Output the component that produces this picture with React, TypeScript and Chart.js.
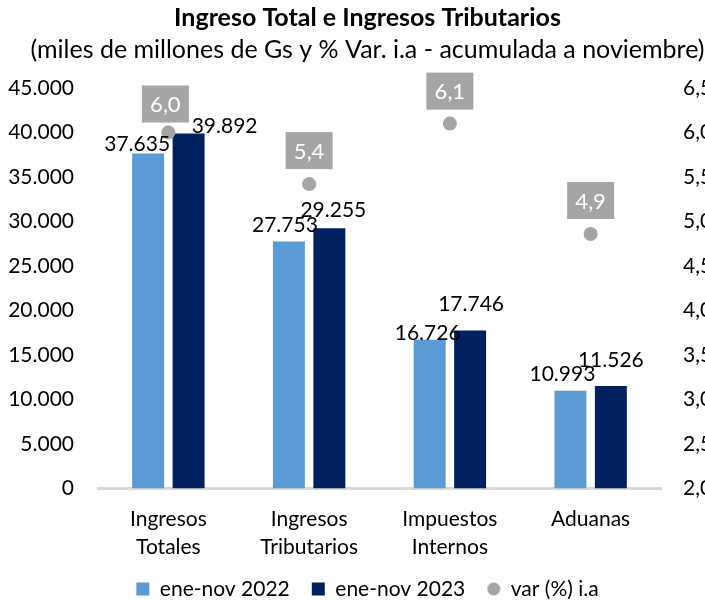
import React, { useEffect, useRef } from "react";
import { Chart, registerables } from "chart.js";

Chart.register(...registerables);

const categories: string[][] = [
  ["Ingresos", "Totales"],
  ["Ingresos", "Tributarios"],
  ["Impuestos", "Internos"],
  ["Aduanas"],
];
const values2022 = [37635, 27753, 16726, 10993];
const values2023 = [39892, 29255, 17746, 11526];
const varPct = [6.0, 5.42, 6.1, 4.86];

const seriesNames = ["ene-nov 2022", "ene-nov 2023", "var (%) i.a"];
const titleText = "Ingreso Total e Ingresos Tributarios";
const subtitleText = "(miles de millones de Gs y % Var. i.a - acumulada a noviembre)";

// label nudges (style only): [dx, dy] of label centre relative to bar top centre
const barLabelShift2022 = [[-11, -9], [-4, -16], [-2, -6], [-8, -16]];
const barLabelShift2023 = [[36, -7], [4, -18], [1, -26], [0, -26]];
const varLabelGap = [10, 15, 14, 15];
const varLabelDx = [-3, 0, 0, 0];

const FONT = "Lato";
const LIGHT = "#5b9bd5";
const DARK = "#002060";
const GREY = "#a5a5a5";

const fmtThousands = (v: number) =>
  String(Math.round(v)).replace(/\B(?=(\d{3})+(?!\d))/g, ".");
const fmtDec = (v: number) => v.toFixed(1).replace(".", ",");

const labelPlugin = {
  id: "customLabels",
  afterDatasetsDraw(chart: any) {
    const ctx = chart.ctx;
    ctx.save();
    [0, 1].forEach((di) => {
      const meta = chart.getDatasetMeta(di);
      const vals = di === 0 ? values2022 : values2023;
      const shifts = di === 0 ? barLabelShift2022 : barLabelShift2023;
      meta.data.forEach((el: any, i: number) => {
        ctx.font = `21px ${FONT}`;
        ctx.fillStyle = "#000";
        ctx.textAlign = "center";
        ctx.textBaseline = "middle";
        ctx.fillText(fmtThousands(vals[i]), el.x + shifts[i][0], el.y + shifts[i][1]);
      });
    });
    const meta = chart.getDatasetMeta(2);
    meta.data.forEach((el: any, i: number) => {
      const w = 47;
      const h = 37;
      const cx = el.x + varLabelDx[i];
      const bottom = el.y - varLabelGap[i];
      ctx.fillStyle = GREY;
      ctx.fillRect(cx - w / 2, bottom - h, w, h);
      ctx.font = `22px ${FONT}`;
      ctx.fillStyle = "#fff";
      ctx.textAlign = "center";
      ctx.textBaseline = "middle";
      ctx.fillText(fmtDec(varPct[i]), cx, bottom - h / 2 + 1);
    });
    ctx.restore();
  },
};

export default function App() {
  const ref = useRef<HTMLCanvasElement | null>(null);

  useEffect(() => {
    if (!ref.current) return;
    const dot = document.createElement("canvas");
    dot.width = 14;
    dot.height = 14;
    const dctx = dot.getContext("2d")!;
    dctx.fillStyle = GREY;
    dctx.beginPath();
    dctx.arc(7, 7, 6.5, 0, Math.PI * 2);
    dctx.fill();

    const chart = new Chart(ref.current, {
      type: "bar",
      data: {
        labels: categories,
        datasets: [
          {
            type: "bar",
            label: seriesNames[0],
            data: values2022,
            backgroundColor: LIGHT,
            yAxisID: "y",
            barPercentage: 0.79,
            categoryPercentage: 0.575,
            order: 1,
          },
          {
            type: "bar",
            label: seriesNames[1],
            data: values2023,
            backgroundColor: DARK,
            yAxisID: "y",
            barPercentage: 0.79,
            categoryPercentage: 0.575,
            order: 1,
          },
          {
            type: "line",
            label: seriesNames[2],
            data: varPct,
            yAxisID: "y1",
            showLine: false,
            pointRadius: 7,
            pointHoverRadius: 7,
            pointBackgroundColor: GREY,
            pointBorderWidth: 0,
            backgroundColor: GREY,
            borderColor: GREY,
            order: 0,
          } as any,
        ],
      },
      options: {
        responsive: false,
        animation: false,
        devicePixelRatio: 1,
        layout: { padding: { left: 0, right: 0, top: 0, bottom: -9.5 } },
        plugins: {
          tooltip: { enabled: false },
          title: {
            display: true,
            text: titleText,
            color: "#000",
            font: { family: FONT, size: 25, weight: "bold" },
            padding: { top: 3, bottom: 2 },
          },
          subtitle: {
            display: true,
            text: subtitleText,
            color: "#000",
            font: { family: FONT, size: 25 },
            padding: { top: 0, bottom: 23 },
          },
          legend: {
            position: "bottom",
            labels: {
              color: "#000",
              font: { family: FONT, size: 21 },
              usePointStyle: true,
              boxWidth: 13,
              boxHeight: 13,
              padding: 22,
              sort: (a: any, b: any) => a.datasetIndex - b.datasetIndex,
              generateLabels: (c: any) => {
                const items = (Chart as any).defaults.plugins.legend.labels.generateLabels(c);
                items.forEach((it: any) => {
                  if (it.datasetIndex === 2) {
                    it.pointStyle = dot;
                  } else {
                    it.pointStyle = "rect";
                    it.lineWidth = 0;
                  }
                });
                return items;
              },
            },
          },
        },
        scales: {
          x: {
            grid: { display: false, drawTicks: false },
            border: { display: true, color: "#d9d9d9", width: 3 },
            ticks: {
              color: "#000",
              font: { family: FONT, size: 21, lineHeight: 1.33 },
              padding: 17,
              maxRotation: 0,
              autoSkip: false,
            },
            afterFit: (s: any) => {
              s.height = 68;
            },
          },
          y: {
            position: "left",
            min: 0,
            max: 45000,
            grid: { display: false, drawTicks: false },
            border: { display: false },
            ticks: {
              stepSize: 5000,
              color: "#000",
              font: { family: FONT, size: 21 },
              padding: 24,
              callback: (v: any) => fmtThousands(Number(v)),
            },
            afterFit: (s: any) => {
              s.width = 98;
            },
          },
          y1: {
            position: "right",
            min: 2,
            max: 6.5,
            grid: { display: false, drawTicks: false },
            border: { display: false },
            ticks: {
              stepSize: 0.5,
              color: "#000",
              font: { family: FONT, size: 21 },
              padding: 22,
              callback: (v: any) => fmtDec(Number(v)),
            },
            afterFit: (s: any) => {
              s.width = 74;
            },
          },
        },
      } as any,
      plugins: [labelPlugin],
    });
    return () => chart.destroy();
  }, []);

  return (
    <div
      style={{
        position: "absolute",
        left: 0,
        top: 0,
        width: 705,
        height: 600,
        overflow: "hidden",
        background: "#fff",
      }}
    >
      <canvas ref={ref} width={735} height={600} style={{ display: "block" }} />
    </div>
  );
}
